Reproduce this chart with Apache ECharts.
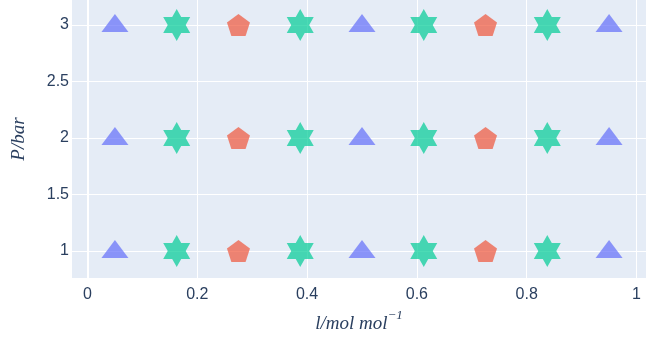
<!DOCTYPE html>
<html>
<head>
<meta charset="utf-8">
<script src="https://cdn.jsdelivr.net/npm/echarts@6/dist/echarts.min.js"></script>
<style>
  html, body { margin: 0; padding: 0; background: #ffffff; }
  #chart { width: 646px; height: 340px; }
</style>
</head>
<body>
<div id="chart"></div>
<script>
// Mole fractions where each marker type sits, and the pressure levels
const triangleX = [0.05, 0.5, 0.95];
const starX = [0.1625, 0.3875, 0.6125, 0.8375];
const pentagonX = [0.275, 0.725];
const pressures = [1, 2, 3];

// Tick values shown on each axis
const xTicks = [0, 0.2, 0.4, 0.6, 0.8, 1];
const yTicks = [1, 1.5, 2, 2.5, 3];

// Six-pointed star and regular pentagon outlines
const HEXAGRAM = 'path://M0,-100L28.87,-50L86.6,-50L57.74,0L86.6,50L28.87,50L0,100L-28.87,50L-86.6,50L-57.74,0L-86.6,-50L-28.87,-50Z';
const PENTAGON = 'path://M0,-100L95.1,-30.9L58.78,80.9L-58.78,80.9L-95.1,-30.9Z';

function points(xs) {
  const out = [];
  pressures.forEach(function (p) {
    xs.forEach(function (x) { out.push([x, p]); });
  });
  return out;
}

const SERIF = 'Liberation Serif, DejaVu Serif, serif';
const tickFont = { color: '#2a3f5f', fontSize: 16, fontFamily: 'Liberation Sans, Arial, sans-serif' };
const titleFont = { color: '#2a3f5f', fontSize: 19, fontStyle: 'italic', fontFamily: SERIF };

const chart = echarts.init(document.getElementById('chart'), null, { renderer: 'canvas' });
chart.setOption({
  animation: false,
  backgroundColor: '#ffffff',
  grid: {
    left: 72, right: 0, top: 0, bottom: 62,
    show: true, backgroundColor: '#e5ecf6', borderWidth: 0
  },
  xAxis: {
    type: 'value',
    min: -0.0282, max: 1.0173,
    name: '{v|l/mol mol}{s|−1}',
    nameLocation: 'middle',
    nameGap: 31,
    nameTextStyle: {
      rich: {
        v: Object.assign({ lineHeight: 24, verticalAlign: 'bottom' }, titleFont),
        s: { color: '#2a3f5f', fontSize: 13, lineHeight: 13, fontStyle: 'italic', fontFamily: SERIF, verticalAlign: 'top' }
      }
    },
    axisLine: { show: false },
    axisTick: { show: false, customValues: xTicks },
    axisLabel: Object.assign({ customValues: xTicks, margin: 9 }, tickFont),
    splitLine: { show: true, lineStyle: { color: '#ffffff', width: 1 } }
  },
  yAxis: {
    type: 'value',
    min: 0.761, max: 3.221,
    name: 'P/bar',
    nameLocation: 'middle',
    nameGap: 44,
    nameRotate: 90,
    nameTextStyle: titleFont,
    axisLine: { show: false },
    axisTick: { show: false, customValues: yTicks },
    axisLabel: Object.assign({ customValues: yTicks, margin: 3 }, tickFont),
    splitLine: { show: true, lineStyle: { color: '#ffffff', width: 1 } }
  },
  series: [
    {
      type: 'scatter',
      name: 'triangle',
      data: points(triangleX),
      symbol: 'triangle',
      symbolSize: [27, 18],
      symbolOffset: [0, -2],
      itemStyle: { color: '#636efa', opacity: 0.7 },
      markLine: {
        silent: true,
        symbol: 'none',
        label: { show: false },
        lineStyle: { color: '#ffffff', width: 2, type: 'solid' },
        data: [{ xAxis: 0 }],
        z: 1
      }
    },
    {
      type: 'scatter',
      name: 'star',
      data: points(starX),
      symbol: HEXAGRAM,
      symbolSize: [27, 32],
      itemStyle: { color: '#00cc96', opacity: 0.7 }
    },
    {
      type: 'scatter',
      name: 'pentagon',
      data: points(pentagonX),
      symbol: PENTAGON,
      symbolSize: [23, 22],
      itemStyle: { color: '#EF553B', opacity: 0.7 }
    }
  ]
});
</script>
</body>
</html>
